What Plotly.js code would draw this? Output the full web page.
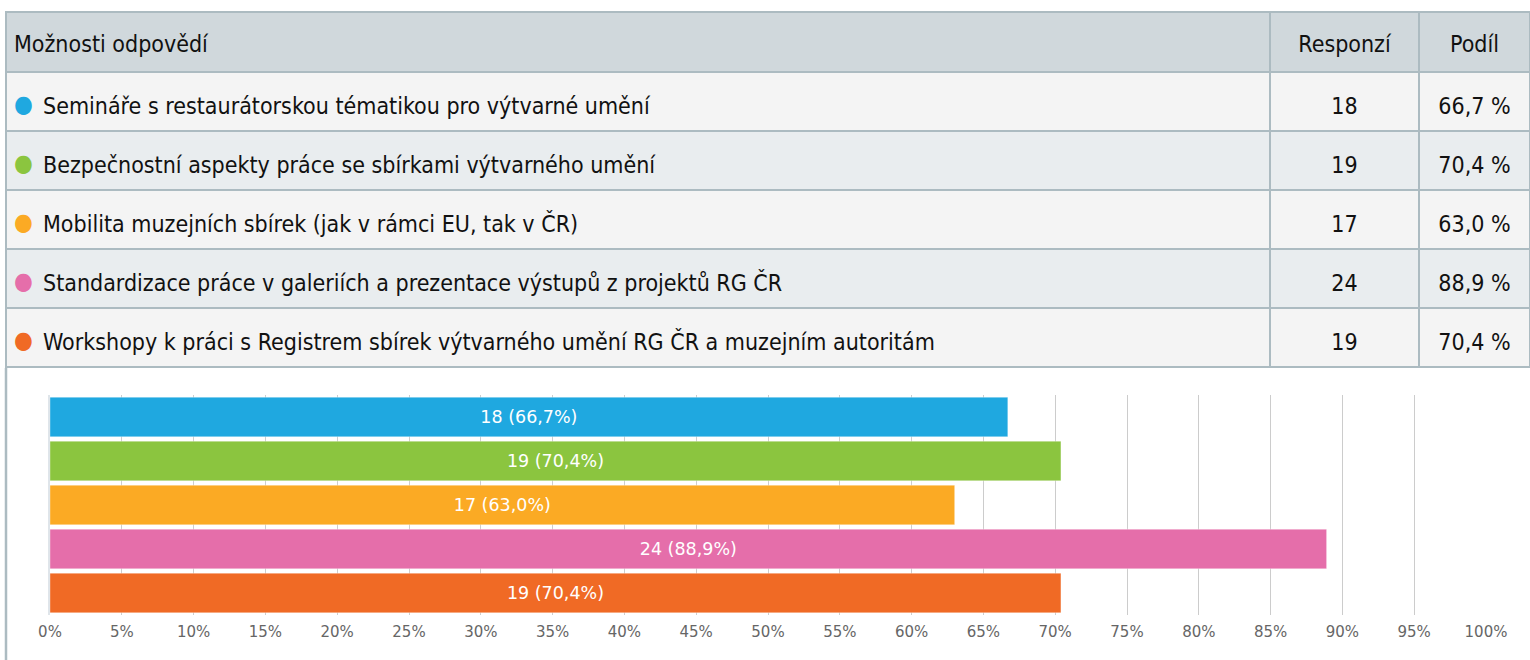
<!DOCTYPE html>
<html>
<head>
<meta charset="utf-8">
<script src="https://cdn.plot.ly/plotly-3.0.1.min.js"></script>
<style>html,body{margin:0;padding:0;background:#fff;}#chart{width:1530px;height:660px;}</style>
</head>
<body>
<div id="chart"></div>
<script>
const headers = ['Možnosti odpovědí', 'Responzí', 'Podíl'];
const categories = [
  'Semináře s restaurátorskou tématikou pro výtvarné umění',
  'Bezpečnostní aspekty práce se sbírkami výtvarného umění',
  'Mobilita muzejních sbírek (jak v rámci EU, tak v ČR)',
  'Standardizace práce v galeriích a prezentace výstupů z projektů RG ČR',
  'Workshopy k práci s Registrem sbírek výtvarného umění RG ČR a muzejním autoritám'
];
const responses = [18, 19, 17, 24, 19];
const shares = [66.7, 70.4, 63.0, 88.9, 70.4];
const colors = ['#1fa8e0', '#8bc53f', '#fbaa24', '#e56eaa', '#f06a25'];
const xTicks = [0,5,10,15,20,25,30,35,40,45,50,55,60,65,70,75,80,85,90,95,100];

const fmt = v => v.toFixed(1).replace('.', ',');
const W = 1530, H = 660;
const tableFont = '"DejaVu Sans Condensed", "DejaVu Sans", sans-serif';
const nb = s => s.replace(/ /g, '\u00a0');

const labelCells = categories.map(nb);
const shareCells = shares.map(v => nb(fmt(v) + ' %'));
const rowFills = categories.map((c, i) => i % 2 === 0 ? '#f4f4f4' : '#e9edef');
const blankCells = categories.map(() => '');
const dotCells = categories.map(() => '●');

const colW = [1264, 149, 111];
const dotCol = 29;
const tableTop = 12, tableBottom = 369;
const headerShift = 15, rowShift = 17, dotShift = 14;
const lineStyle = {color: '#acbbc1', width: 2.5};
const noLine = {color: 'rgba(0,0,0,0)', width: 0};
const clear = {color: 'rgba(0,0,0,0)'};
const textFont = {family: tableFont, size: 23, color: '#111111'};
const yDom = s => [1 - (tableBottom + s) / H, 1 - (tableTop + s) / H];

// grid, fills and borders
const tableGrid = {
  type: 'table',
  domain: {x: [6 / W, 1], y: yDom(0)},
  columnwidth: colW,
  header: {values: ['', '', ''], fill: {color: '#d0d8dc'}, line: lineStyle, height: 60},
  cells: {
    values: [blankCells, blankCells, blankCells],
    fill: {color: [rowFills, rowFills, rowFills]},
    line: lineStyle,
    height: 59
  }
};

// header texts (shifted down to sit in the middle of the header row)
const tableHeaderText = {
  type: 'table',
  domain: {x: [6 / W, 1], y: yDom(headerShift)},
  columnwidth: colW,
  header: {
    values: headers.map(nb),
    align: ['left', 'center', 'center'],
    fill: clear, line: noLine, font: textFont, height: 60
  },
  cells: {values: [blankCells, blankCells, blankCells], fill: clear, line: noLine, height: 59}
};

// row texts
const tableCellText = {
  type: 'table',
  domain: {x: [(6 + dotCol) / W, 1], y: yDom(rowShift)},
  columnwidth: [colW[0] - dotCol, colW[1], colW[2]],
  header: {values: ['', '', ''], fill: clear, line: noLine, height: 60},
  cells: {
    values: [labelCells, responses.map(String), shareCells],
    align: ['left', 'center', 'center'],
    fill: clear, line: noLine, font: textFont, height: 59
  }
};

// coloured markers in front of each answer
const tableDots = {
  type: 'table',
  domain: {x: [6 / W, (6 + dotCol) / W], y: yDom(dotShift)},
  columnwidth: [dotCol],
  header: {values: [''], fill: clear, line: noLine, height: 60},
  cells: {
    values: [dotCells],
    align: 'left',
    fill: clear, line: noLine,
    font: {family: tableFont, size: 24, color: [colors]},
    height: 59
  }
};

const bars = {
  type: 'bar',
  orientation: 'h',
  x: shares,
  y: categories,
  marker: {color: colors, line: {color: 'rgba(255,255,255,0.35)', width: 1}},
  text: responses.map((r, i) => r + ' (' + fmt(shares[i]) + '%)'),
  textposition: 'inside',
  insidetextanchor: 'middle',
  textfont: {family: 'DejaVu Sans, sans-serif', size: 17.5, color: '#ffffff'},
  hoverinfo: 'none',
  xaxis: 'x',
  yaxis: 'y'
};

const layout = {
  width: W, height: H,
  margin: {l: 0, r: 0, t: 0, b: 0},
  paper_bgcolor: '#ffffff',
  plot_bgcolor: '#ffffff',
  showlegend: false,
  separators: ', ',
  bargap: 0.1,
  xaxis: {
    domain: [50 / W, 1486 / W],
    range: [0, 100],
    tickvals: xTicks,
    ticktext: xTicks.map(v => v + '%'),
    showgrid: true,
    gridcolor: '#cccccc',
    gridwidth: 1,
    zeroline: false,
    showline: false,
    ticks: '',
    ticklabelstandoff: 6,
    tickfont: {family: 'DejaVu Sans, sans-serif', size: 15, color: '#666666'},
    anchor: 'y',
    fixedrange: true
  },
  yaxis: {
    domain: [1 - 615 / H, 1 - 395 / H],
    autorange: 'reversed',
    showticklabels: false,
    showgrid: false,
    zeroline: false,
    showline: true,
    linecolor: '#dfe5ea',
    linewidth: 2,
    ticks: '',
    anchor: 'x',
    fixedrange: true
  },
  shapes: [{
    type: 'line', xref: 'paper', yref: 'paper',
    x0: 6 / W, x1: 6 / W, y0: 0, y1: 1 - 368 / H,
    line: {color: '#acbbc1', width: 2.5}
  }]
};

Plotly.newPlot('chart', [tableGrid, tableHeaderText, tableCellText, tableDots, bars], layout,
  {displayModeBar: false, staticPlot: true});
</script>
</body>
</html>
